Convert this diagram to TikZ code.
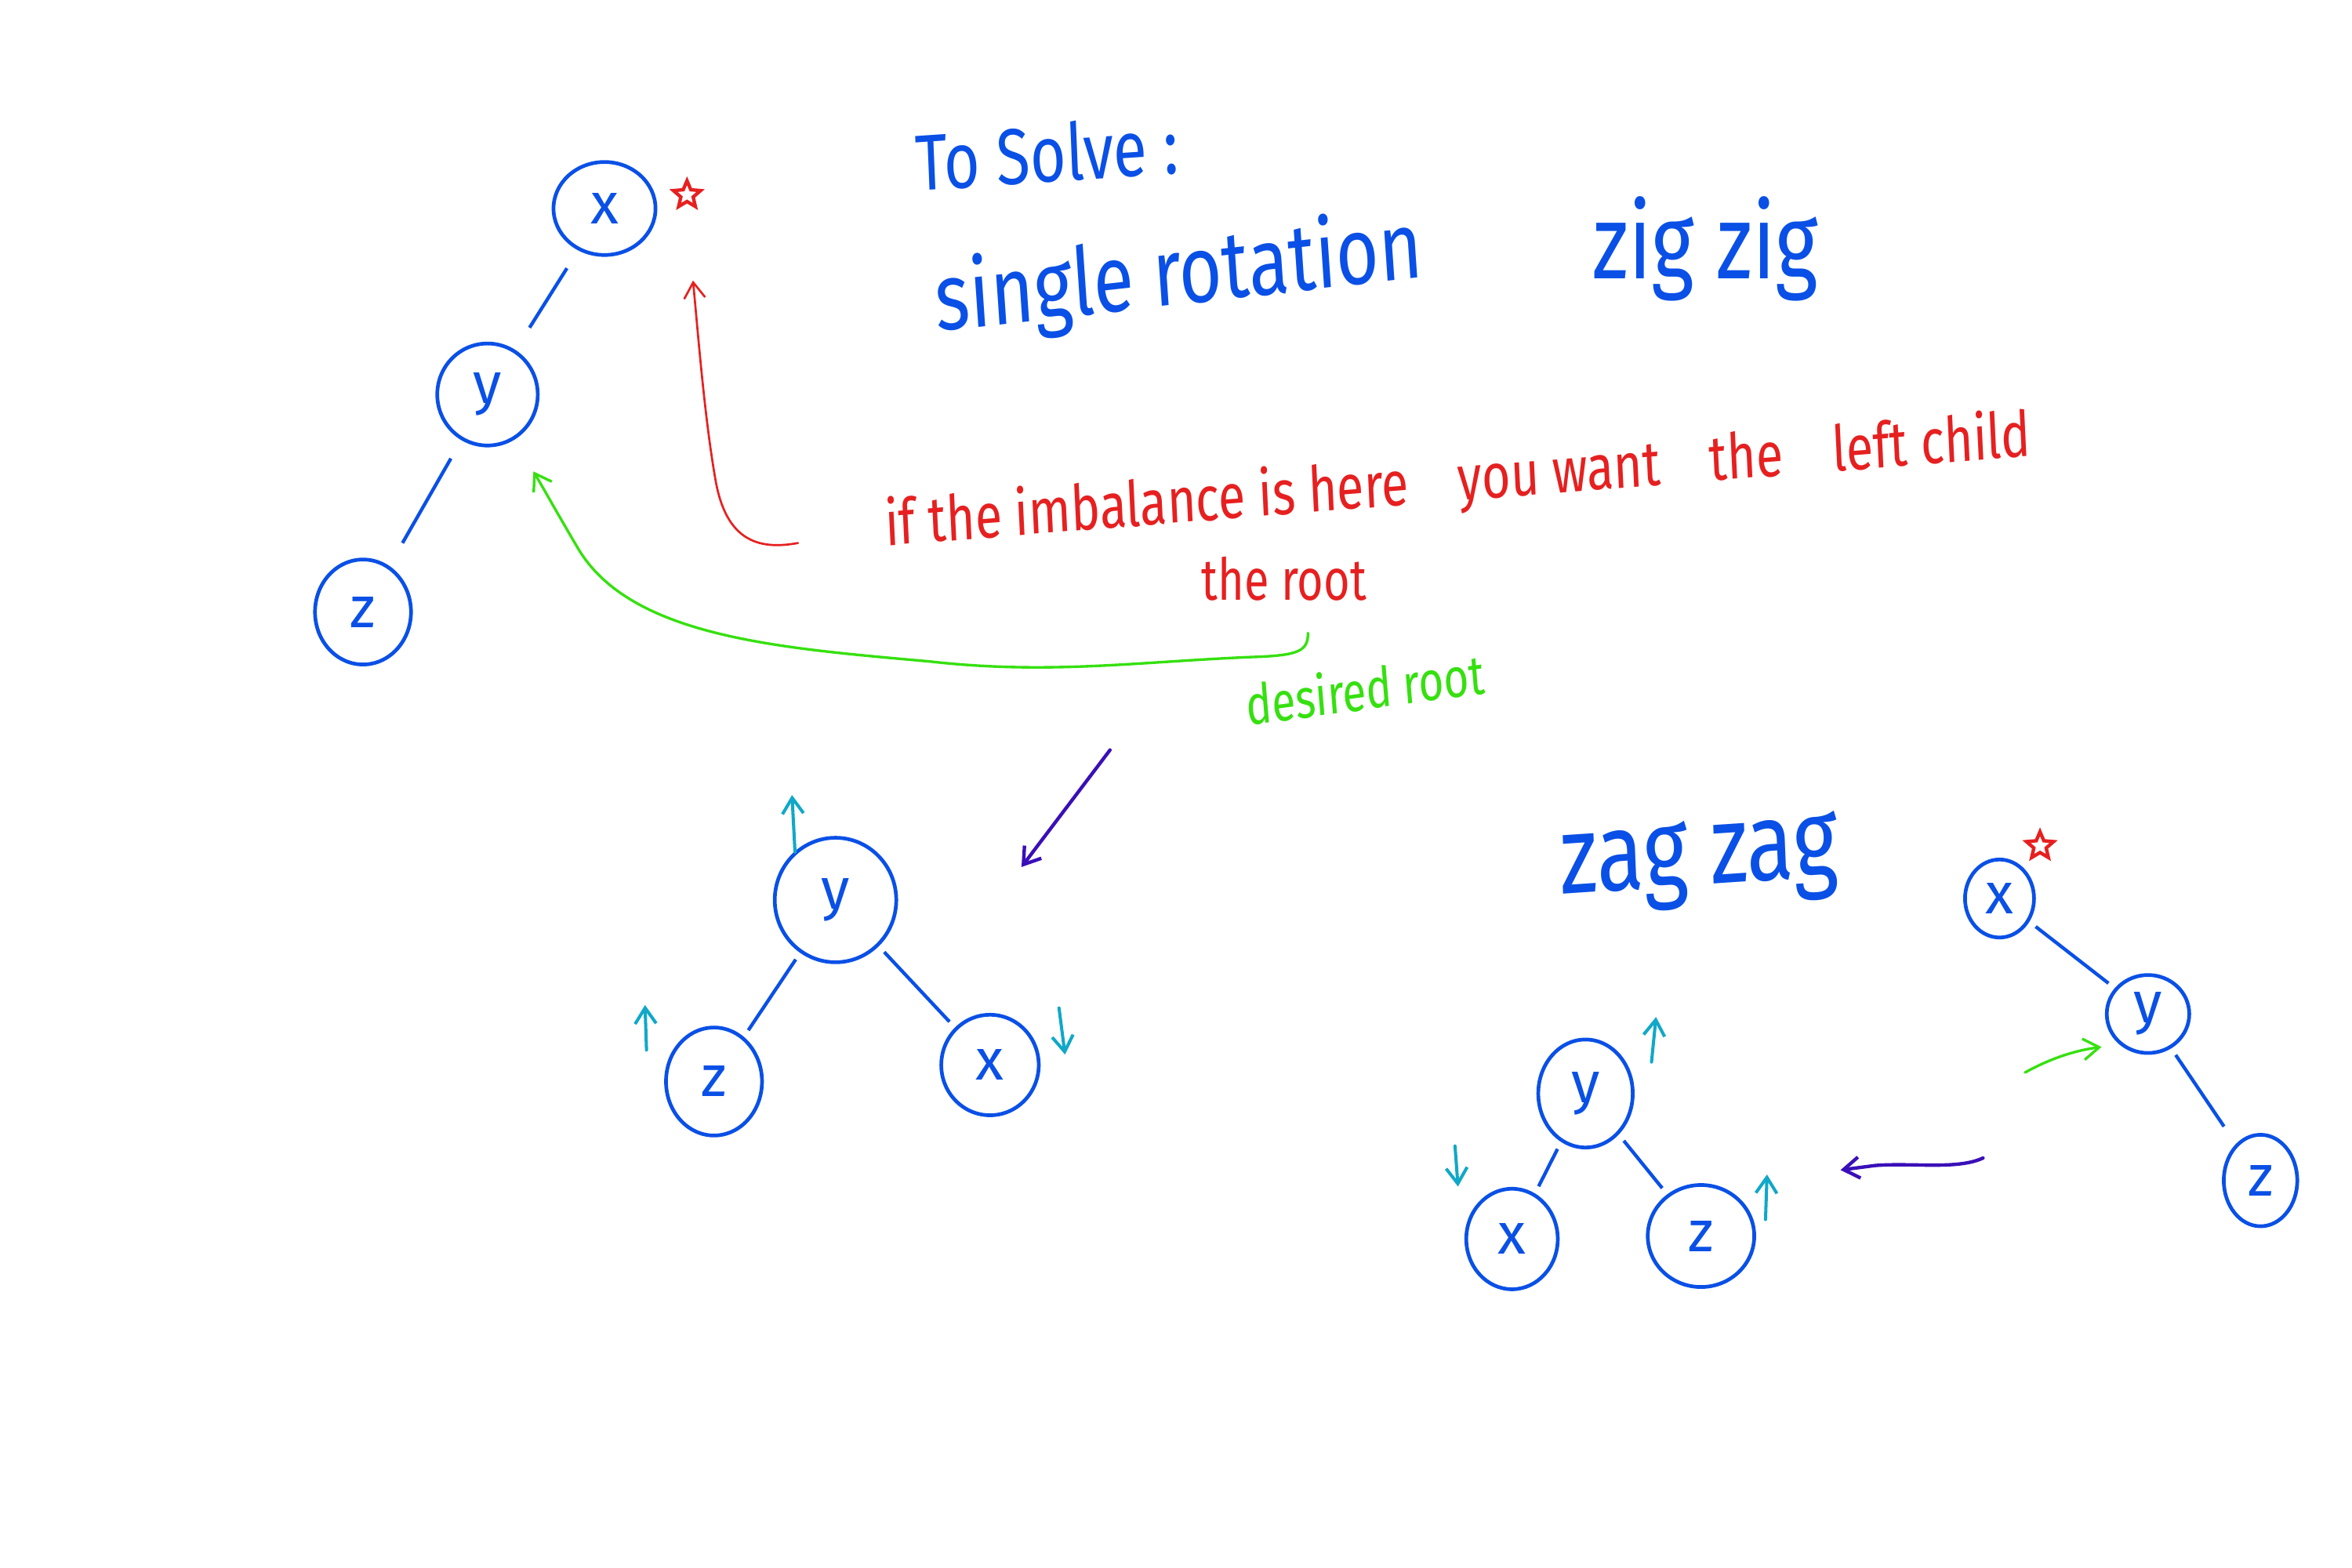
\documentclass[tikz,border=0pt]{standalone}
\usepackage{fontspec}
\setmainfont{Fira Sans}
\usetikzlibrary{shapes.geometric, arrows.meta, positioning}
\definecolor{Blue}  {HTML}{0A50E6}
\definecolor{Red}   {HTML}{E62020}
\definecolor{Green} {HTML}{36E010}
\definecolor{Cyan}  {HTML}{10A8C8}
\definecolor{Purple}{HTML}{3A0FB8}
\tikzset{
  hand/.style={inner sep=0pt, xscale=0.78},
  barb/.style={-{Straight Barb[length=6pt,width=8pt]}, line cap=round}
}

\begin{document}
\begin{tikzpicture}[
  x=0.2mm, y=-0.2mm,
  nd/.style 2 args={ellipse,draw=Blue,line width=1.4pt,inner sep=0pt,
              text=Blue,minimum width=#1mm,minimum height=#2mm,
              font=\fontsize{22}{24}\selectfont},
  edge/.style={draw=Blue,line width=1.3pt,shorten <=3pt,shorten >=3pt},
  flag/.style={star,star points=5,star point ratio=2.2,draw=Red,
              line width=1.3pt,minimum size=3.8mm,inner sep=0pt},
  tip/.style={barb,draw=Cyan,line width=1.2pt},
  turn/.style={barb,draw=Purple,line width=1.3pt}
]
  \useasboundingbox (0,0) rectangle (1568,1045);

  % headings
  \node[hand,text=Blue,rotate=3,font=\fontsize{30}{32}\selectfont]  (Head)  at (698,102) {To Solve :};
  \node[hand,text=Blue,rotate=5,font=\fontsize{36}{40}\selectfont]  (Single) at (786,185) {single rotation};
  \node[hand,text=Blue,font=\fontsize{40}{42}\selectfont]           (ZigZig) at (1137,166) {zig zig};
  \node[hand,text=Blue,rotate=3,font=\fontsize{42}{44}\selectfont]  (ZagZag) at (1133,576) {zag zag};

  % unbalanced tree
  \node[nd={13.6}{12.4}] (X1) at (403,139) {x};
  \node[nd={13.4}{13.6}] (Y1) at (325,263) {y};
  \node[nd={12.8}{14}]   (Z1) at (242,408) {z};
  \node[flag]            (S1) at (458,130) {};
  \draw[edge,shorten <=8pt,shorten >=10pt] (X1) -- (Y1);
  \draw[edge,shorten <=8pt,shorten >=10pt] (Y1) -- (Z1);

  % notes
  \node[hand,text=Red,rotate=3.5,font=\fontsize{24}{26}\selectfont] (Note) at (972,322)
    {if the imbalance is here\quad you want\quad the\quad left child};
  \node[hand,text=Red,font=\fontsize{22}{24}\selectfont]   (Root)  at (856,386) {the root};
  \node[hand,text=Green,rotate=6,font=\fontsize{21}{23}\selectfont] (Want) at (910,459) {desired root};

  \coordinate (RedS) at (532,362);
  \coordinate (RedT) at (462,187);
  \draw[barb,draw=Red,line width=0.8pt] (RedS) .. controls (505,367) and (484,360) .. (477,320)
    .. controls (470,280) and (466,230) .. (RedT);
  \coordinate (GrnS) at (872,422);
  \draw[barb,draw=Green,line width=1pt,shorten >=14pt] (GrnS) .. controls (872,434) and (866,437) .. (835,438)
    .. controls (760,441) and (700,450) .. (620,441)
    .. controls (520,432) and (420,425) .. (385,365)
    .. controls (372,343) and (362,325) .. (Y1);

  % after rotation
  \node[nd={16.2}{16.6}] (Y2) at (557,600) {y};
  \node[nd={12.8}{14.4}] (Z2) at (476,721) {z};
  \node[nd={13}{13.4}]   (X2) at (660,710) {x};
  \draw[edge] (Y2) -- (Z2);
  \draw[edge] (Y2) -- (X2);
  \coordinate (P1) at (740,500);
  \coordinate (P2) at (681,578);
  \draw[turn] (P1) -- (P2);
  \coordinate (C1) at (530,568); \coordinate (C2) at (528,530);
  \coordinate (C3) at (431,700); \coordinate (C4) at (430,670);
  \coordinate (C5) at (706,672); \coordinate (C6) at (710,703);
  \draw[tip] (C1) -- (C2);
  \draw[tip] (C3) -- (C4);
  \draw[tip] (C5) -- (C6);

  % mirrored case
  \node[nd={9.2}{10.4}]  (X3) at (1333,599) {x};
  \node[nd={11}{10.4}]   (Y3) at (1432,676) {y};
  \node[nd={9.8}{12.2}]  (Z3) at (1507,787) {z};
  \node[flag]            (S3) at (1360,564) {};
  \draw[edge] (X3) -- (Y3);
  \draw[edge,shorten >=8pt] (Y3) -- (Z3);
  \coordinate (G1) at (1350,715);
  \coordinate (G2) at (1401,698);
  \draw[barb,draw=Green,line width=1pt] (G1) .. controls (1368,705) and (1385,700) .. (G2);

  \coordinate (P3) at (1322,772);
  \coordinate (P4) at (1227,780);
  \draw[turn] (P3) .. controls (1305,780) and (1275,775) .. (1250,777) -- (P4);

  \node[nd={12.6}{14.4}] (Y4) at (1057,729) {y};
  \node[nd={12.2}{13.4}] (X4) at (1008,826) {x};
  \node[nd={14.2}{13.6}] (Z4) at (1134,824) {z};
  \draw[edge] (Y4) -- (X4);
  \draw[edge] (Y4) -- (Z4);
  \coordinate (C7)  at (1101,708); \coordinate (C8)  at (1104,678);
  \coordinate (C9)  at (970,764);  \coordinate (C10) at (972,791);
  \coordinate (C11) at (1177,813); \coordinate (C12) at (1178,783);
  \draw[tip] (C7) -- (C8);
  \draw[tip] (C9) -- (C10);
  \draw[tip] (C11) -- (C12);
\end{tikzpicture}
\end{document}
